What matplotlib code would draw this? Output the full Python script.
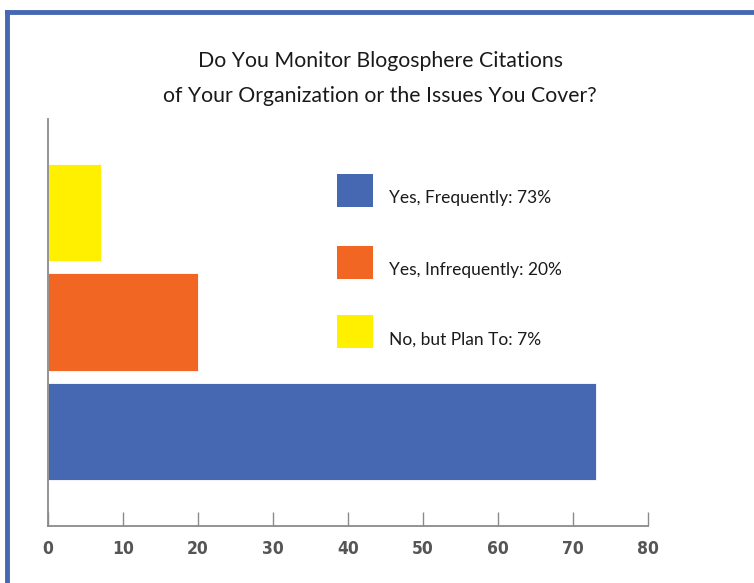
import matplotlib.pyplot as plt
from matplotlib.patches import Rectangle
from matplotlib.lines import Line2D

# survey answers, bottom bar first
answers = ["Yes, Frequently", "Yes, Infrequently", "No, but Plan To"]
percent = [73, 20, 7]
colors = ["#4668B2", "#F26624", "#FFF000"]
xticks = [0, 10, 20, 30, 40, 50, 60, 70, 80]

W, H = 754, 583
fig = plt.figure(figsize=(W / 100, H / 100), dpi=100)
fig.patch.set_facecolor("white")

# blue frame along the top and left
fig.add_artist(Line2D([7 / W, 7 / W], [0, 1 - 12 / H], color="#4668B2", lw=3.5))
fig.add_artist(Line2D([7 / W, 1], [1 - 12 / H, 1 - 12 / H], color="#4668B2", lw=3.5))

ax = fig.add_axes([48 / W, 57 / H, 600 / W, 407 / H])
pos = list(range(len(answers)))
ax.barh(pos, percent, height=0.89, color=colors, edgecolor="white", linewidth=0.6)
ax.set_xlim(0, 80)
ax.set_ylim(-0.87, 2.86)
ax.set_xticks(xticks)
ax.set_yticks([])
for s in ["top", "right"]:
    ax.spines[s].set_visible(False)
for s in ["left", "bottom"]:
    ax.spines[s].set_color("#8a8a8a")
    ax.spines[s].set_linewidth(1.3)
ax.tick_params(axis="x", direction="in", length=10, width=1, color="#8a8a8a",
               pad=10, labelsize=12.5, labelcolor="#555555")
for t in ax.get_xticklabels():
    t.set_fontfamily("DejaVu Sans")
    t.set_fontweight("bold")
    t.set_fontstretch("condensed")

fig.text(380 / W, 1 - 61 / H, "Do You Monitor Blogosphere Citations",
         ha="center", va="center", fontsize=15.3, family="Lato", color="#1a1a1a")
fig.text(380 / W, 1 - 96 / H, "of Your Organization or the Issues You Cover?",
         ha="center", va="center", fontsize=15.3, family="Lato", color="#1a1a1a")

# legend: squares with labels, top entry is the bottom bar
sq_top = [174, 246, 315]
txt_y = [198, 270, 340]
for i, (a, p, c) in enumerate(zip(answers, percent, colors)):
    fig.add_artist(Rectangle((337 / W, 1 - (sq_top[i] + 33) / H), 36 / W, 33 / H,
                             transform=fig.transFigure, facecolor=c, edgecolor="none"))
    fig.text(389 / W, 1 - txt_y[i] / H, f"{a}: {p}%", ha="left", va="center",
             fontsize=12.5, family="Lato", color="#1a1a1a")

fig.savefig("out.png", dpi=100)
